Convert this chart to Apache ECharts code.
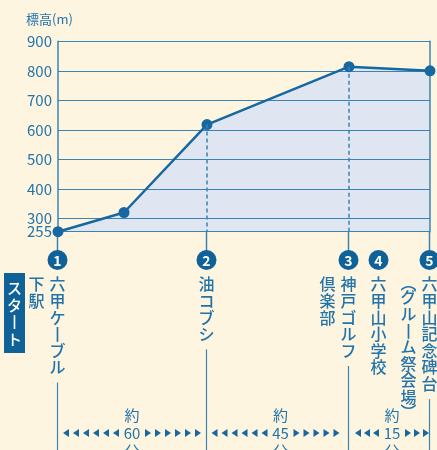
<!DOCTYPE html>
<html>
<head>
<meta charset="utf-8">
<script src="https://cdn.jsdelivr.net/npm/echarts@6/dist/echarts.min.js"></script>
<style>
html, body { margin: 0; padding: 0; background: #fdf5df; }
#chart { width: 437px; height: 450px; }
</style>
</head>
<body>
<div id="chart"></div>
<script>
// 断面図のデータ（距離は図上の相対値）
const profileDist = [0, 66, 149, 291, 372]
const profileElev = [255, 320, 618, 814, 800]
const yTicks = [255, 300, 400, 500, 600, 700, 800, 900]
const stationNo = ['1', '2', '3', '4', '5']
const stationDist = [0, 149, 291, 321, 372]
const stationName = ['六甲ケーブル', '油コブシ', '神戸ゴルフ', '六甲山小学校', '六甲山記念碑台']
const stationSub = ['下駅', '', '倶楽部', '', '(グルーム祭会場)']
const legMinutes = ['60', '45', '15']
const legArrowsL = [6, 6, 3]
const legArrowsR = [6, 5, 3]

const BLUE = '#1767a0'
const DARK = '#0f6298'
const GRID = '#3a84b3'
const TEXT = '#2373ab'
const FONT = '"Noto Sans CJK JP", "Noto Sans", sans-serif'

const myChart = echarts.init(document.getElementById('chart'))

const labelStyle = {
  margin: 6,
  color: TEXT,
  fontSize: 15,
  fontFamily: FONT,
  showMinLabel: true,
  showMaxLabel: true,
  hideOverlap: false
}

myChart.setOption({
  backgroundColor: '#fdf5df',
  animation: false,
  grid: { left: 58, right: 7, top: 41.3, bottom: 218.3 },
  xAxis: {
    type: 'value',
    min: 0,
    max: 372,
    show: false
  },
  yAxis: [
    {
      type: 'value',
      min: 255,
      max: 900,
      z: 2,
      axisLine: { show: true, lineStyle: { color: GRID, width: 1.5 } },
      axisTick: { show: false, customValues: yTicks },
      axisLabel: Object.assign({ customValues: yTicks.slice(1) }, labelStyle),
      splitLine: { show: true, lineStyle: { color: GRID, width: 1 } }
    },
    {
      type: 'value',
      min: 255,
      max: 900,
      position: 'right',
      z: 2,
      axisLine: { show: true, lineStyle: { color: GRID, width: 1.5 } },
      axisTick: { show: false },
      axisLabel: { show: false },
      splitLine: { show: false }
    },
    {
      // 最低点（255）のラベルだけ別の軸で出す
      type: 'value',
      min: 255,
      max: 900,
      position: 'left',
      offset: 0,
      axisLine: { show: false },
      axisTick: { show: false, customValues: yTicks.slice(0, 1) },
      axisLabel: Object.assign({ customValues: yTicks.slice(0, 1) }, labelStyle),
      splitLine: { show: false }
    }
  ],
  series: [
    {
      // 塗りつぶし（グリッド線の下）
      type: 'line',
      z: 1,
      data: profileDist.map((d, i) => [d, profileElev[i]]),
      symbol: 'none',
      lineStyle: { opacity: 0 },
      areaStyle: { color: '#e0e6f1', opacity: 1, origin: 'start' },
      silent: true
    },
    {
      type: 'line',
      z: 3,
      data: profileDist.map((d, i) => [d, profileElev[i]]),
      symbol: 'circle',
      symbolSize: 11,
      lineStyle: { color: BLUE, width: 2.5 },
      itemStyle: { color: BLUE },
      markLine: {
        silent: true,
        symbol: 'none',
        label: { show: false },
        lineStyle: { color: GRID, width: 1.5, type: [4, 3] },
        data: stationDist
          .map(d => profileDist.indexOf(d))
          .filter(k => k > 0 && k < profileDist.length - 1)
          .map(k => [{ coord: [profileDist[k], profileElev[k]] }, { coord: [profileDist[k], 255] }])
      }
    }
  ]
})

// 縦書き：1文字ずつ置く。戻り値は列の下端
function pushColumn(g, x, y, s, color, size, lh) {
  s.split('').forEach(c => {
    let h = lh
    if (c === '(') { c = '︵'; h = 13 }
    if (c === ')') { c = '︶'; h = 13 }
    if (c === 'ー') c = '丨'
    g.push({
      type: 'text', x: x, y: y + h / 2,
      style: {
        text: c, fill: color, font: '500 ' + size + 'px ' + FONT,
        align: 'center', verticalAlign: 'middle'
      }
    })
    y += h
  })
  return y
}

function buildGraphic() {
  const g = []
  const base = myChart.convertToPixel({ gridIndex: 0 }, [0, 255])[1]
  const circleY = 260
  const textTop = 276
  const lh = 16.6

  g.push({
    type: 'text', left: 26, top: 13,
    style: { text: '標高(m)', fill: TEXT, font: '13px ' + FONT }
  })

  // スタート
  g.push({
    type: 'rect', shape: { x: 4, y: 273, width: 21, height: 80 },
    style: { fill: DARK }
  })
  pushColumn(g, 14.5, 280, 'スタート', '#fff', 15, 17)

  const lineX = []
  stationDist.forEach((d, i) => {
    const x = Math.round(myChart.convertToPixel({ gridIndex: 0 }, [d, 255])[0]) - 0.5
    const onProfile = profileDist.indexOf(d) >= 0
    if (onProfile) {
      g.push({
        type: 'line', shape: { x1: x, y1: base, x2: x, y2: circleY - 9 },
        style: { stroke: GRID, lineWidth: 1.5 }
      })
    }
    g.push({
      type: 'circle', shape: { cx: x, cy: circleY, r: 10 },
      style: { fill: DARK }
    })
    g.push({
      type: 'text', x: x, y: circleY + 1,
      style: {
        text: stationNo[i], fill: '#fff', font: 'bold 14px ' + FONT,
        align: 'center', verticalAlign: 'middle'
      }
    })
    const bottom = pushColumn(g, x, textTop, stationName[i], TEXT, 16, lh)
    if (stationSub[i]) pushColumn(g, x - 21, textTop, stationSub[i], TEXT, 16, lh)
    if (onProfile) {
      g.push({
        type: 'line', shape: { x1: x, y1: bottom + 7, x2: x, y2: 450 },
        style: { stroke: GRID, lineWidth: 1.2 }
      })
      lineX.push(x)
    }
  })

  // 所要時間
  const rowY = 433
  for (let k = 0; k < lineX.length - 1; k++) {
    const cx = (lineX[k] + lineX[k + 1]) / 2 + (k > 0 ? 3 : 0)
    g.push({
      type: 'text', x: cx, y: rowY,
      style: {
        text: '約\n' + legMinutes[k] + '\n分',
        fill: TEXT, font: '15px ' + FONT, lineHeight: 18,
        align: 'center', verticalAlign: 'middle'
      }
    })
    const pitch = k === 2 ? 9 : 10
    for (let j = 0; j < legArrowsL[k]; j++) {
      const r = cx - 13 - j * pitch
      g.push({
        type: 'polygon',
        shape: { points: [[r, rowY - 4], [r, rowY + 4], [r - 6, rowY]] },
        style: { fill: BLUE }
      })
    }
    for (let j = 0; j < legArrowsR[k]; j++) {
      const l = cx + 13 + j * pitch
      g.push({
        type: 'polygon',
        shape: { points: [[l, rowY - 4], [l, rowY + 4], [l + 6, rowY]] },
        style: { fill: BLUE }
      })
    }
  }
  return g
}

myChart.setOption({ graphic: buildGraphic() })
</script>
</body>
</html>
